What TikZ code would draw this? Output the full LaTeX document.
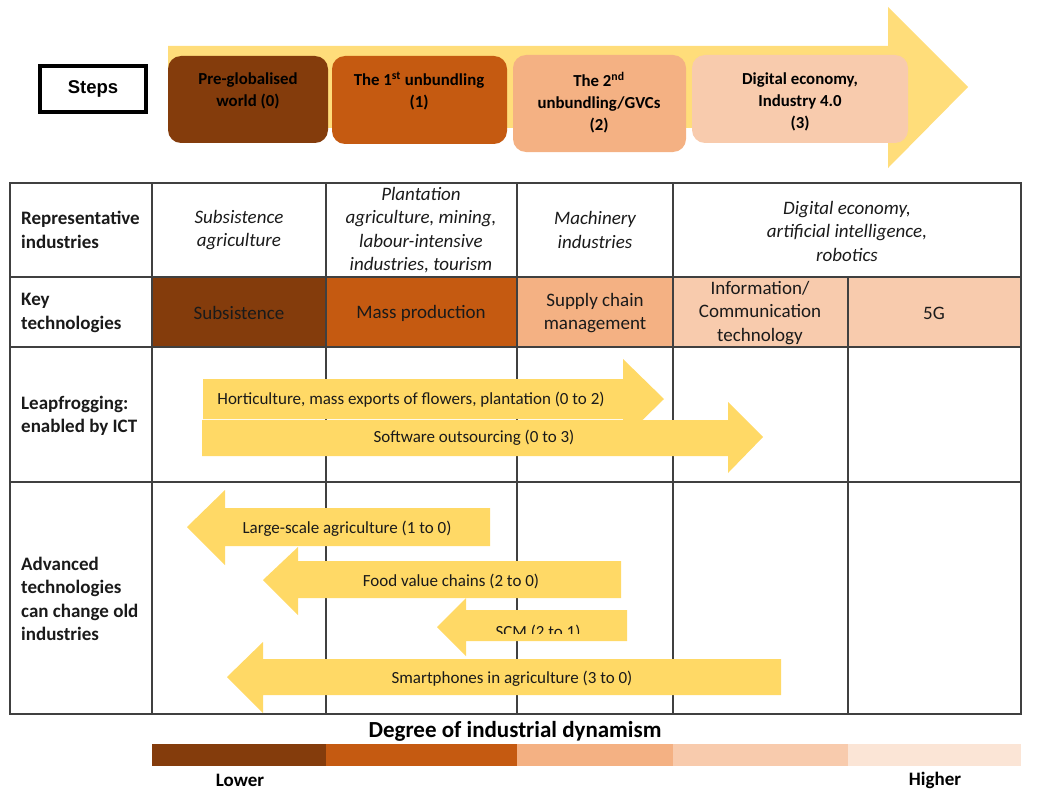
\documentclass[tikz,border=0pt]{standalone}
\usepackage{fontspec}
\setmainfont{Carlito}
\newfontfamily\arialfont{Liberation Sans}
\definecolor{cA}{HTML}{843C0C}
\definecolor{cB}{HTML}{C55A11}
\definecolor{cC}{HTML}{F4B183}
\definecolor{cD}{HTML}{F8CBAD}
\definecolor{cE}{HTML}{FBE5D6}
\definecolor{ylw}{HTML}{FFD966}
\definecolor{ylwtop}{HTML}{FFDD7A}
\definecolor{grid}{HTML}{404040}
\definecolor{txt}{HTML}{1A1A1A}
\begin{document}
\begin{tikzpicture}[x=1pt,y=-1pt,
  cell/.style={font=\fontsize{19}{23.5}\selectfont, align=center, inner sep=0pt, text=txt},
  icell/.style={cell, font=\itshape\fontsize{19}{23.5}\selectfont},
  rowlab/.style={font=\bfseries\fontsize{19}{23.5}\selectfont, align=left, anchor=west, inner sep=0pt, text=txt},
  boxtxt/.style={font=\bfseries\fontsize{16.8}{22}\selectfont, align=center, inner sep=0pt, text=black},
  arrtxt/.style={font=\fontsize{17}{20}\selectfont, inner sep=0pt, text=txt},
  stepbox/.style={rounded corners=13pt},
  gridline/.style={draw=grid, line width=1.1pt},
  arrowfill/.style={fill=ylw}
]
\useasboundingbox (0,0) rectangle (1041,789);

% ---- top big arrow ----
\fill[ylwtop] (168,46) -- (888,46) -- (888,7) -- (968,87) -- (888,168) -- (888,128) -- (168,128) -- cycle;

% ---- step boxes ----
\fill[cA, stepbox] (168,56) rectangle (328,143);
\fill[cB, stepbox] (332,56) rectangle (507,144);
\fill[cC, stepbox] (513,55) rectangle (686,152);
\fill[cD, stepbox] (692,55) rectangle (908,143);
\node[boxtxt] (s0) at (248,91) {Pre-globalised\\world (0)};
\node[boxtxt] (s1) at (419,91) {The 1\textsuperscript{st} unbundling\\(1)};
\node[boxtxt] (s2) at (599,103) {The 2\textsuperscript{nd}\\unbundling/GVCs\\(2)};
\node[boxtxt] (s3) at (800,102) {Digital economy,\\Industry 4.0\\(3)};

% ---- Steps label ----
\node[draw=black, line width=4pt, minimum width=106pt, minimum height=46pt, inner sep=0pt,
      font=\arialfont\bfseries\fontsize{18.5}{22}\selectfont] (steps) at (93,89) {Steps};

% ---- key technology cells ----
\fill[cA] (152,277) rectangle (326,347);
\fill[cB] (326,277) rectangle (517,347);
\fill[cC] (517,277) rectangle (673,347);
\fill[cD] (673,277) rectangle (1021,347);

% ---- grid ----
\draw[gridline] (10,183) rectangle (1021,714);
\draw[gridline] (10,277) -- (1021,277);
\draw[gridline] (10,347) -- (1021,347);
\draw[gridline] (10,482) -- (1021,482);
\draw[gridline] (152,183) -- (152,714);
\draw[gridline] (326,183) -- (326,714);
\draw[gridline] (517,183) -- (517,714);
\draw[gridline] (673,183) -- (673,714);
\draw[gridline] (848,277) -- (848,714);

% ---- row labels ----
\node[rowlab] (l1) at (21,230) {Representative\\industries};
\node[rowlab] (l2) at (21,313) {Key\\technologies};
\node[rowlab] (l3) at (21,416) {Leapfrogging:\\enabled by ICT};
\node[rowlab] (l4) at (21,599) {Advanced\\technologies\\can change old\\industries};

% ---- row 1 ----
\node[icell] (r1a) at (239,230) {Subsistence\\agriculture};
\node[icell] (r1b) at (421,230) {Plantation\\agriculture, mining,\\labour-intensive\\industries, tourism};
\node[icell] (r1c) at (595,230) {Machinery\\industries};
\node[icell] (r1d) at (847,231) {Digital economy,\\artificial intelligence,\\robotics};

% ---- row 2 ----
\node[cell] (r2a) at (239,313) {Subsistence};
\node[cell] (r2b) at (421,313) {Mass production};
\node[cell] (r2c) at (595,313) {Supply chain\\management};
\node[cell] (r2d) at (760,313) {Information/\\Communication\\technology};
\node[cell] (r2e) at (934,313) {5G};

% ---- leapfrogging arrows ----
\fill[arrowfill] (203,379) -- (623,379) -- (623,359) -- (664,399) -- (623,439) -- (623,419) -- (203,419) -- cycle;
\fill[arrowfill] (202,420) -- (728,420) -- (728,402) -- (763,437) -- (728,473) -- (728,456) -- (202,456) -- cycle;
\node[arrtxt] (t1) at (411,400) {Horticulture, mass exports of flowers, plantation (0 to 2)};
\node[arrtxt] (t2) at (474,438) {Software outsourcing (0 to 3)};

% ---- backward arrows ----
\fill[arrowfill] (490,508) -- (225,508) -- (225,490) -- (187,527) -- (225,565) -- (225,546) -- (490,546) -- cycle;
\fill[arrowfill] (621,561) -- (298,561) -- (298,547) -- (263,580) -- (298,615) -- (298,598) -- (621,598) -- cycle;
\fill[arrowfill] (627,610) -- (466,610) -- (466,598) -- (437,627) -- (466,656) -- (466,641) -- (627,641) -- cycle;
\fill[arrowfill] (781,659) -- (263,659) -- (263,642) -- (227,677) -- (263,713) -- (263,695) -- (781,695) -- cycle;
\node[arrtxt] (ta) at (347,528.5) {Large-scale agriculture (1 to 0)};
\node[arrtxt] (tb) at (451,581.5) {Food value chains (2 to 0)};
\begin{scope}
  \clip (470,600) rectangle (627,633);
  \node[arrtxt] (tc) at (538,632) {SCM (2 to 1)};
\end{scope}
\node[arrtxt] (td) at (512,678.5) {Smartphones in agriculture (3 to 0)};

% ---- bottom scale ----
\node[font=\bfseries\fontsize{23}{27}\selectfont, inner sep=0pt, text=black] (deg) at (515,731.5) {Degree of industrial dynamism};
\fill[cA] (152,744) rectangle (326,766);
\fill[cB] (326,744) rectangle (517,766);
\fill[cC] (517,744) rectangle (673,766);
\fill[cD] (673,744) rectangle (848,766);
\fill[cE] (848,744) rectangle (1021,766);
\node[font=\bfseries\fontsize{19}{22}\selectfont, inner sep=0pt, text=black] (lower) at (240,780) {Lower};
\node[font=\bfseries\fontsize{19}{22}\selectfont, inner sep=0pt, text=black] (higher) at (935,780) {Higher};
\end{tikzpicture}
\end{document}
